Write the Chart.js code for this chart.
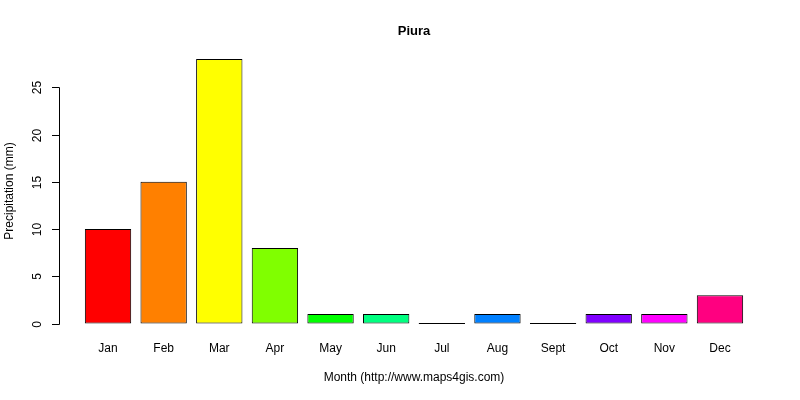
<!DOCTYPE html>
<html>
<head>
<meta charset="utf-8">
<script src="https://cdn.jsdelivr.net/npm/chart.js@4/dist/chart.umd.min.js"></script>
<style>
html,body{margin:0;padding:0;background:#fff;}
#wrap{width:800px;height:400px;}
</style>
</head>
<body>
<div id="wrap"><canvas id="c" width="800" height="400"></canvas></div>
<script>
const months = ["Jan","Feb","Mar","Apr","May","Jun","Jul","Aug","Sept","Oct","Nov","Dec"];
const precipitation = [10, 15, 28, 8, 1, 1, 0, 1, 0, 1, 1, 3];
const barColors = ["#FF0000","#FF8000","#FFFF00","#80FF00","#00FF00","#00FF80","#00FFFF","#0080FF","#0000FF","#8000FF","#FF00FF","#FF0080"];
const yTicks = [0, 5, 10, 15, 20, 25];
const chartTitle = "Piura";
const xTitle = "Month (http://www.maps4gis.com)";
const yTitle = "Precipitation (mm)";

const FONT = "'Liberation Sans', Arial, sans-serif";

const rAxisPlugin = {
  id: 'rAxis',
  afterDraw(chart) {
    const ctx = chart.ctx;
    const y = chart.scales.y;
    const axX = 59.5;
    ctx.save();
    ctx.strokeStyle = '#000';
    ctx.lineWidth = 1;
    ctx.beginPath();
    ctx.moveTo(axX, Math.round(y.getPixelForValue(yTicks[0])) + 0.5);
    ctx.lineTo(axX, Math.round(y.getPixelForValue(yTicks[yTicks.length - 1])) + 0.5);
    ctx.stroke();
    ctx.fillStyle = '#000';
    ctx.font = '12px ' + FONT;
    ctx.textAlign = 'center';
    ctx.textBaseline = 'middle';
    yTicks.forEach(v => {
      const py = Math.round(y.getPixelForValue(v)) + 0.5;
      ctx.beginPath();
      ctx.moveTo(axX - 7.5, py);
      ctx.lineTo(axX, py);
      ctx.stroke();
      ctx.save();
      ctx.translate(38, py);
      ctx.rotate(-Math.PI / 2);
      ctx.fillText(String(v), 0, 0);
      ctx.restore();
    });
    ctx.save();
    ctx.translate(10, (chart.chartArea.top + chart.chartArea.bottom) / 2);
    ctx.rotate(-Math.PI / 2);
    ctx.fillText(yTitle, 0, 0);
    ctx.restore();
    ctx.restore();
  }
};

new Chart(document.getElementById('c'), {
  type: 'bar',
  data: {
    labels: months,
    datasets: [{
      data: precipitation,
      backgroundColor: barColors,
      borderColor: '#000',
      borderWidth: 1,
      borderSkipped: false,
      minBarLength: 1,
      barPercentage: 0.833,
      categoryPercentage: 1.0
    }]
  },
  options: {
    responsive: false,
    animation: false,
    devicePixelRatio: 1,
    layout: { padding: { left: 28, right: 0, top: 0, bottom: 0 } },
    plugins: {
      legend: { display: false },
      tooltip: { enabled: false },
      title: {
        display: true,
        text: chartTitle,
        color: '#000',
        font: { family: FONT, size: 13, weight: 'bold', lineHeight: 1.2 },
        padding: { top: 23.2, bottom: 9.6 }
      }
    },
    scales: {
      x: {
        grid: { display: false, drawTicks: false },
        border: { display: false },
        ticks: { color: '#000', font: { family: FONT, size: 12 }, padding: 8, maxRotation: 0, autoSkip: false },
        title: {
          display: true,
          text: xTitle,
          color: '#000',
          font: { family: FONT, size: 12, lineHeight: 1.2 },
          padding: { top: 0, bottom: 14.8 }
        },
        afterFit(s) { s.height = 66.4; }
      },
      y: {
        min: -1.069,
        max: 29.12,
        grid: { display: false, drawTicks: false },
        border: { display: false },
        ticks: { display: false },
        afterFit(s) { s.width = 52.2; }
      },
      y2: {
        position: 'right',
        display: true,
        min: 0,
        max: 1,
        grid: { display: false, drawTicks: false },
        border: { display: false },
        ticks: { display: false },
        afterFit(s) { s.width = 52.2; }
      }
    }
  },
  plugins: [rAxisPlugin]
});
</script>
</body>
</html>
